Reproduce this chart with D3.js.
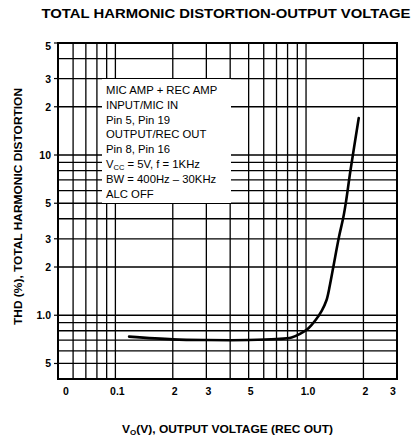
<!DOCTYPE html>
<html><head><meta charset="utf-8">
<script src="https://cdn.jsdelivr.net/npm/d3@7"></script>
<style>
html,body{margin:0;padding:0;background:#fff;}
svg{display:block;font-family:"Liberation Sans",Arial,sans-serif;}
</style></head>
<body>
<svg id="chart" width="415" height="438"></svg>
<script>
// ---- data ----
const voltage = [0.118, 0.2, 0.3, 0.5, 0.7, 0.84, 0.93, 1.03, 1.12, 1.21, 1.28, 1.335, 1.39, 1.49, 1.57, 1.62, 1.71, 1.89];
const thd     = [0.735, 0.707, 0.70, 0.70, 0.71, 0.727, 0.765, 0.83, 0.93, 1.07, 1.24, 1.55, 2.0, 3.1, 4.1, 5.1, 8.0, 17];
const xTickValues = [0.05, 0.1, 0.2, 0.3, 0.5, 1.0, 2, 3];
const xTickLabels = ["0", "0.1", "2", "3", "5", "1.0", "2", "3"];
const yTickValues = [50, 30, 20, 10, 5, 3, 2, 1.0, 0.5];
const yTickLabels = ["5", "3", "2", "10", "5", "3", "2", "1.0", "5"];
const noteLines = ["MIC AMP + REC AMP", "INPUT/MIC IN", "Pin 5, Pin 19", "OUTPUT/REC OUT", "Pin 8, Pin 16", "VCC", "BW = 400Hz \u2013 30KHz", "ALC OFF"];
const titleText = "TOTAL HARMONIC DISTORTION-OUTPUT VOLTAGE";
const yTitle = "THD (%), TOTAL HARMONIC DISTORTION";

// ---- layout ----
const L = 58, R = 397, T = 43, B = 379;
const svg = d3.select("#chart");
const x = d3.scaleLog().domain([0.05, 3]).range([L, R]);
const y = d3.scaleLog().domain([0.4, 50]).range([B, T]);

// grid
const g = svg.append("g");
const xg = x.ticks().filter(v => v > 0.0501 && v < 2.99);
const yg = y.ticks().filter(v => v > 0.401 && v < 49.9);
g.selectAll("line.vx").data(xg).enter().append("line")
  .attr("x1", d => x(d)).attr("x2", d => x(d)).attr("y1", T).attr("y2", B)
  .attr("stroke", "#000").attr("stroke-width", 1.3);
g.selectAll("line.hy").data(yg).enter().append("line")
  .attr("y1", d => y(d)).attr("y2", d => y(d)).attr("x1", L).attr("x2", R)
  .attr("stroke", "#000").attr("stroke-width", 1.3);

// y tick stubs
g.selectAll("line.yt").data(yTickValues).enter().append("line")
  .attr("y1", d => y(d)).attr("y2", d => y(d)).attr("x1", L - 4).attr("x2", L)
  .attr("stroke", "#000").attr("stroke-width", 1.2);

// white note box
const boxX0 = 102, boxX1 = 231, boxY0 = 79, boxY1 = 203;
svg.append("rect").attr("x", boxX0).attr("y", boxY0).attr("width", boxX1 - boxX0).attr("height", boxY1 - boxY0).attr("fill", "#fff");

// border
svg.append("rect").attr("x", L).attr("y", T).attr("width", R - L).attr("height", B - T)
  .attr("fill", "none").attr("stroke", "#000").attr("stroke-width", 2);

// curve
const line = d3.line().x(d => x(d[0])).y(d => y(d[1])).curve(d3.curveCatmullRom.alpha(0.5));
svg.append("path").datum(voltage.map((v, i) => [v, thd[i]]))
  .attr("d", line).attr("fill", "none").attr("stroke", "#000").attr("stroke-width", 2.6)
  .attr("stroke-linecap", "round");

// tick labels
svg.selectAll("text.xl").data(xTickValues).enter().append("text")
  .attr("x", (d, i) => x(d) + (i === 0 ? 8 : (i === xTickValues.length - 1 ? -4 : 2)))
  .attr("y", 395).attr("text-anchor", "middle")
  .attr("font-size", 10.5).attr("font-weight", 600)
  .text((d, i) => xTickLabels[i]);
svg.selectAll("text.yl").data(yTickValues).enter().append("text")
  .attr("x", 51).attr("y", (d, i) => y(d) + 4 + (i === 0 ? 3 : 0)).attr("text-anchor", "end")
  .attr("font-size", 10.5).attr("font-weight", 600)
  .text((d, i) => yTickLabels[i]);

// note text
const nt = svg.append("g").attr("font-size", 11.3).attr("fill", "#000");
noteLines.forEach((s, i) => {
  const t = nt.append("text").attr("x", 106).attr("y", 94 + i * 14.8);
  if (s === "VCC") {
    t.append("tspan").text("V");
    t.append("tspan").attr("font-size", 7.5).attr("dy", 2).text("CC");
    t.append("tspan").attr("dy", -2).text(" = 5V, f = 1KHz");
  } else {
    t.text(s);
  }
});

// titles
svg.append("text").attr("x", 226).attr("y", 18).attr("text-anchor", "middle")
  .attr("font-size", 12).attr("font-weight", "bold")
  .attr("textLength", 369).attr("lengthAdjust", "spacingAndGlyphs")
  .text(titleText);

svg.append("text").attr("transform", "translate(22,206.5) rotate(-90)")
  .attr("text-anchor", "middle").attr("font-size", 10).attr("font-weight", "bold")
  .attr("textLength", 237).attr("lengthAdjust", "spacingAndGlyphs")
  .text(yTitle);

const xt = svg.append("text").attr("x", 122).attr("y", 433)
  .attr("font-size", 10.5).attr("font-weight", "bold")
  .attr("textLength", 211).attr("lengthAdjust", "spacingAndGlyphs");
xt.append("tspan").text("V");
xt.append("tspan").attr("font-size", 7).attr("dy", 2).text("O");
xt.append("tspan").attr("dy", -2).text("(V), OUTPUT VOLTAGE (REC OUT)");
</script>
</body></html>
